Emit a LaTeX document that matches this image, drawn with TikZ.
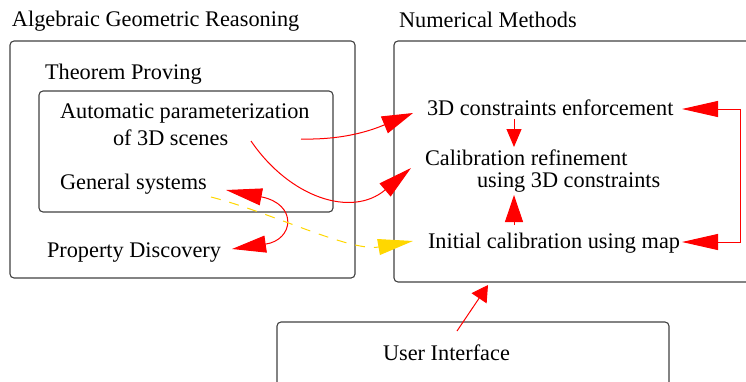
\documentclass[tikz,border=0pt]{standalone}
\usepackage{fontspec}
\setmainfont{Liberation Serif}
\usetikzlibrary{arrows.meta}
\definecolor{boxgray}{HTML}{404040}
\definecolor{flowred}{HTML}{FF0000}
\definecolor{flowgold}{HTML}{FFD700}
\tikzset{
  lbl/.style={anchor=base west, inner sep=0pt, outer sep=0pt,
              font=\fontsize{22.3}{26}\selectfont},
  frame/.style={draw=boxgray, line width=1.1pt, rounded corners=4pt},
  redflow/.style={draw=flowred, line width=1pt},
  goldflow/.style={draw=flowgold, line width=1pt, dash pattern=on 10pt off 9pt},
}
\begin{document}
\begin{tikzpicture}[x=1pt, y=-1pt]
\useasboundingbox (0,0) rectangle (746,381);

% group frames
\draw[frame] (10,41) rectangle (355,278);
\draw[frame] (39,91) rectangle (333,212);
\draw[frame] (394,41) rectangle (780,282);
\draw[frame] (277,322) rectangle (669,400);

% labels
\node[lbl] (agr)   at (12,26)  {Algebraic Geometric Reasoning};
\node[lbl] (num)   at (399,27) {Numerical Methods};
\node[lbl] (thm)   at (45,79)  {Theorem Proving};
\node[lbl] (auto1) at (60,118) {Automatic parameterization};
\node[lbl] (auto2) at (113,145) {of 3D scenes};
\node[lbl] (gen)   at (60,189) {General systems};
\node[lbl] (prop)  at (47,257) {Property Discovery};
\node[lbl] (enf)   at (427,115) {3D constraints enforcement};
\node[lbl] (cal1)  at (425,165) {Calibration refinement};
\node[lbl] (cal2)  at (477,187) {using 3D constraints};
\node[lbl] (init)  at (428,248) {Initial calibration using map};
\node[lbl] (ui)    at (383,360) {User Interface};

% connector end points
\coordinate (a1) at (301,139);
\coordinate (a2) at (413,113);
\coordinate (b1) at (251,141);
\coordinate (b2) at (411,168);
\coordinate (c1) at (226,190);
\coordinate (c2) at (232,249);
\coordinate (d1) at (211,197);
\coordinate (d2) at (413,241);
\coordinate (e1) at (514,119);
\coordinate (e2) at (514,147);
\coordinate (f1) at (514,225);
\coordinate (f2) at (514,195);
\coordinate (g1) at (682,109);
\coordinate (g2) at (682,242);
\coordinate (h1) at (457,331);
\coordinate (h2) at (488,285);

% connectors
\draw[redflow, -{Triangle[length=31pt,width=18pt]}]
  (a1) .. controls (345,140) and (372,130) .. (a2);
\draw[redflow, -{Triangle[length=34pt,width=17pt]}]
  (b1) .. controls (290,198) and (352,218) .. (b2);
\draw[redflow, {Triangle[length=36pt,width=17pt]}-{Triangle[length=34pt,width=17pt]}]
  (c1) .. controls (298,204) and (294,240) .. (c2);
\draw[goldflow, -{Triangle[length=35pt,width=16pt]}, flowgold]
  (d1) .. controls (270,212) and (350,252) .. (d2);
\draw[redflow, -{Triangle[length=18pt,width=15pt]}] (e1) -- (e2);
\draw[redflow, -{Triangle[length=27pt,width=18pt]}] (f1) -- (f2);
\draw[redflow, {Triangle[length=36pt,width=16pt]}-{Triangle[length=36pt,width=16pt]}]
  (g1) -- (740,109) -- (740,242) -- (g2);
\draw[redflow, -{Triangle[length=16pt,width=18pt]}] (h1) -- (h2);
\end{tikzpicture}
\end{document}
